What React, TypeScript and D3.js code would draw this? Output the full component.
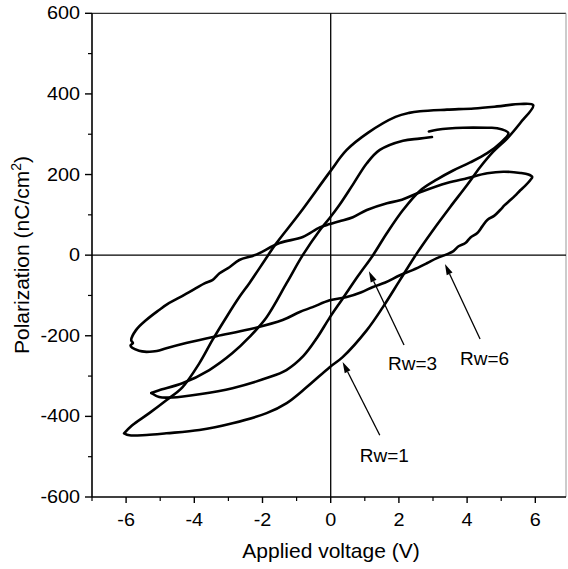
import React from "react";
import * as d3 from "d3";

// ---------- data ----------
const xTicksMajor = [-6, -4, -2, 0, 2, 4, 6];
const xTicksMinor = [-7, -5, -3, -1, 1, 3, 5];
const yTicksMajor = [-600, -400, -200, 0, 200, 400, 600];
const yTicksMinor = [-500, -300, -100, 100, 300, 500];

// Rw=1 loop: lower branch (left tip -> right tip), then upper branch back
const loopRw1: [number, number][] = [
  [-6.06, -442], [-5.9, -447], [-5.4, -446], [-4.82, -442], [-3.85, -434], [-2.88, -417],
  [-1.88, -392], [-1.29, -367], [-0.71, -328], [-0.03, -278], [0.35, -253], [1.06, -186],
  [1.53, -129], [2.03, -62], [2.53, 5], [3.0, 62], [3.5, 119], [4.0, 174], [4.38, 218],
  [4.76, 256], [5.18, 290], [5.56, 328], [5.94, 372],
  [5.56, 375], [4.88, 369], [4.2, 364], [3.41, 361], [2.62, 357], [2.3, 353], [1.9, 343],
  [1.1, 304], [0.47, 261], [-0.03, 206], [-0.91, 104], [-1.59, 30], [-1.85, -2],
  [-2.38, -69], [-2.68, -104], [-3.06, -154], [-3.47, -211], [-3.85, -268], [-4.35, -328],
  [-4.82, -360], [-5.32, -392], [-5.82, -422], [-6.06, -442],
];

// Rw=3 loop, part 1: lower branch and top of the upper branch
const loopRw3a: [number, number][] = [
  [-5.26, -342], [-5.03, -352], [-4.65, -353], [-3.85, -345], [-2.88, -330], [-1.88, -305],
  [-1.3, -285], [-0.8, -250], [-0.4, -205], [-0.03, -155], [0.35, -108], [0.8, -52],
  [1.24, 0], [1.65, 55], [2.12, 112], [2.62, 160], [3.12, 188], [3.59, 210], [4.09, 230],
  [4.59, 253], [4.97, 278], [5.21, 303],
  [4.88, 315], [4.59, 316], [3.88, 316], [3.12, 311], [2.88, 307],
];
// Rw=3 loop, part 2: rest of the upper branch
const loopRw3b: [number, number][] = [
  [2.97, 293], [2.6, 289], [2.12, 284], [1.44, 261], [1.06, 228], [0.65, 175], [0.26, 125],
  [-0.03, 92], [-0.32, 62], [-0.82, 0], [-1.29, -69], [-1.88, -154], [-2.38, -203],
  [-2.88, -243], [-3.56, -285], [-4.35, -318], [-5.03, -335], [-5.26, -342],
];

// Rw=6 loop
const loopRw6: [number, number][] = [
  [-5.4, -240], [-5.1, -238], [-4.82, -231], [-4.24, -218], [-3.35, -201], [-2.38, -184],
  [-1.41, -161], [-0.91, -141], [-0.53, -129], [-0.03, -112], [0.47, -104], [0.9, -92],
  [1.24, -79], [1.6, -68], [2.03, -50], [2.4, -37], [2.82, -20], [3.1, -8], [3.4, 2],
  [3.6, 10], [3.75, 22], [3.95, 30], [4.1, 44], [4.3, 55], [4.45, 72], [4.6, 88],
  [4.8, 98], [4.97, 112], [5.1, 124], [5.26, 136], [5.4, 147], [5.56, 161], [5.7, 172],
  [5.85, 186], [5.91, 194],
  [5.8, 200], [5.56, 204], [5.06, 207], [4.59, 203], [4.0, 191], [3.41, 179], [2.62, 156],
  [2.03, 136], [1.65, 129], [1.06, 112], [0.65, 94], [0.26, 84], [-0.03, 77], [-0.32, 69],
  [-0.82, 45], [-1.5, 30], [-2.09, 5], [-2.29, -2], [-2.68, -12], [-2.97, -30],
  [-3.26, -45], [-3.47, -62], [-3.7, -70], [-3.95, -82], [-4.15, -92], [-4.5, -108],
  [-4.8, -122], [-5.03, -136], [-5.41, -161], [-5.71, -186], [-5.85, -211], [-5.8, -218],
  [-5.87, -224], [-5.82, -230], [-5.62, -237], [-5.4, -240],
];

const curves = [loopRw1, loopRw3a, loopRw3b, loopRw6];

// annotations: label, label anchor (left, baseline), arrow tail, arrow head (data units)
const annLabels = ["Rw=1", "Rw=3", "Rw=6"];
const annText: [number, number][] = [[0.85, -514], [1.68, -285], [3.79, -273]];
const annTail: [number, number][] = [[1.44, -447], [2.15, -223], [4.38, -208]];
const annHead: [number, number][] = [[0.35, -265], [1.12, -40], [3.35, -22]];

// ---------- layout ----------
const W = 568;
const H = 569;
const left = 92;
const right = 566;
const top = 13.3;
const bottom = 497;

export default function App() {
  const x = d3.scaleLinear().domain([-7, 6.9]).range([left, right]);
  const y = d3.scaleLinear().domain([-600, 600]).range([bottom, top]);
  const line = d3
    .line<[number, number]>()
    .x((d) => x(d[0]))
    .y((d) => y(d[1]))
    .curve(d3.curveCatmullRom.alpha(0.5));

  const font = "'Liberation Sans', Arial, Helvetica, sans-serif";

  return (
    <svg
      width={W}
      height={H}
      style={{ position: "absolute", left: 0, top: 0, background: "#fff" }}
      fontFamily={font}
    >
      <rect x={0} y={0} width={W} height={H} fill="#fff" />
      {/* frame top / right */}
      <line x1={left} x2={right} y1={top} y2={top} stroke="#333" strokeWidth={1.2} />
      <line x1={right} x2={right} y1={top} y2={bottom} stroke="#999" strokeWidth={1} />
      {/* zero lines */}
      <line x1={left} x2={right} y1={y(0)} y2={y(0)} stroke="#000" strokeWidth={1.3} />
      <line x1={x(0)} x2={x(0)} y1={top} y2={bottom} stroke="#000" strokeWidth={1.3} />
      {/* axes */}
      <line x1={left} x2={left} y1={top} y2={bottom} stroke="#000" strokeWidth={1.6} />
      <line x1={left} x2={right} y1={bottom} y2={bottom} stroke="#000" strokeWidth={1.6} />
      {xTicksMajor.map((t) => (
        <g key={"xm" + t}>
          <line x1={x(t)} x2={x(t)} y1={bottom} y2={bottom + 6} stroke="#000" strokeWidth={1.4} />
          <text
            x={x(t)}
            y={bottom + 29}
            textAnchor="middle"
            fontSize={18}
            transform={`translate(${x(t)},0) scale(1.1,1) translate(${-x(t)},0)`}
          >
            {t}
          </text>
        </g>
      ))}
      {xTicksMinor.map((t) => (
        <line key={"xn" + t} x1={x(t)} x2={x(t)} y1={bottom} y2={bottom + 4} stroke="#000" strokeWidth={1.2} />
      ))}
      {yTicksMajor.map((t) => (
        <g key={"ym" + t}>
          <line x1={left - 7} x2={left} y1={y(t)} y2={y(t)} stroke="#000" strokeWidth={1.4} />
          <text
            x={80}
            y={y(t) + 6}
            textAnchor="end"
            fontSize={18}
            transform={`translate(80,0) scale(1.1,1) translate(-80,0)`}
          >
            {t}
          </text>
        </g>
      ))}
      {yTicksMinor.map((t) => (
        <line key={"yn" + t} x1={left - 4} x2={left} y1={y(t)} y2={y(t)} stroke="#000" strokeWidth={1.2} />
      ))}
      {/* axis titles */}
      <text x={331} y={558} textAnchor="middle" fontSize={21}>
        Applied voltage (V)
      </text>
      <text transform={`translate(29,255) rotate(-90)`} textAnchor="middle" fontSize={21}>
        Polarization (nC/cm<tspan dy={-8} fontSize={14}>2</tspan>
        <tspan dy={8}>)</tspan>
      </text>
      {/* loops */}
      {curves.map((lp, i) => (
        <path
          key={"loop" + i}
          d={line(lp) || ""}
          fill="none"
          stroke="#000"
          strokeWidth={2.6}
          strokeLinejoin="round"
          strokeLinecap="round"
        />
      ))}
      {/* annotations */}
      {annLabels.map((lab, i) => {
        const x1 = x(annTail[i][0]);
        const y1 = y(annTail[i][1]);
        const x2 = x(annHead[i][0]);
        const y2 = y(annHead[i][1]);
        const ang = Math.atan2(y2 - y1, x2 - x1);
        const hl = 11;
        const hw = 3.2;
        const bx = x2 - hl * Math.cos(ang);
        const by = y2 - hl * Math.sin(ang);
        const px = -Math.sin(ang) * hw;
        const py = Math.cos(ang) * hw;
        return (
          <g key={"ann" + i}>
            <line x1={x1} y1={y1} x2={bx} y2={by} stroke="#000" strokeWidth={1.3} />
            <path d={`M${x2},${y2}L${bx + px},${by + py}L${bx - px},${by - py}Z`} fill="#000" />
            <text x={x(annText[i][0])} y={y(annText[i][1])} fontSize={19}>
              {lab}
            </text>
          </g>
        );
      })}
    </svg>
  );
}
